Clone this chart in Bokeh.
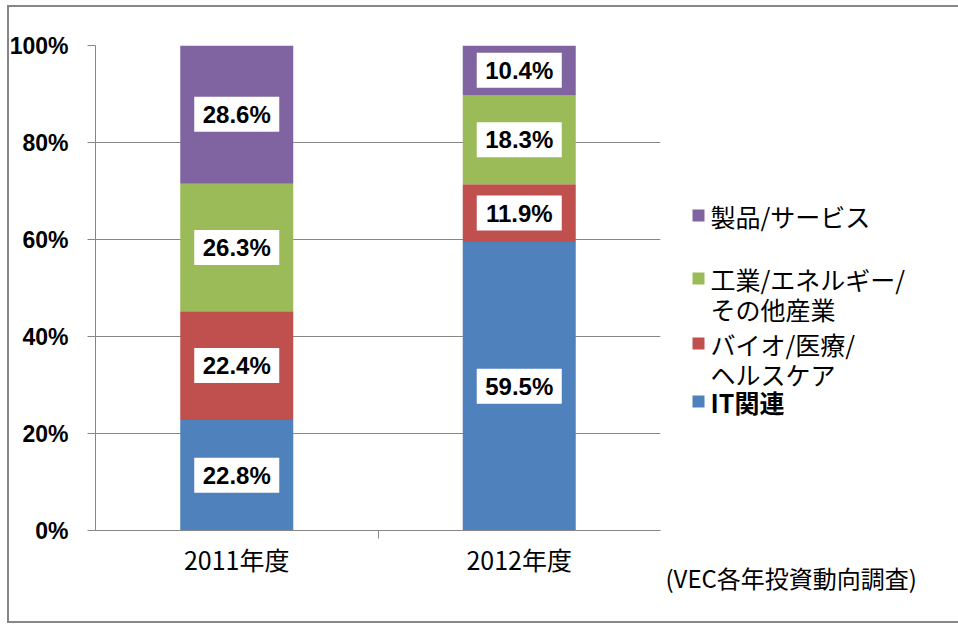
from bokeh.plotting import figure
from bokeh.layouts import row
from bokeh.models import ColumnDataSource, FixedTicker, PrintfTickFormatter, Range1d, Title
from bokeh.embed import file_html
from bokeh.resources import INLINE
from bokeh.core.properties import value

# ---- data ----
years = ["2011年度", "2012年度"]
series_keys = ["it", "bio", "ind", "prod"]
it = [22.8, 59.5]
bio = [22.4, 11.9]
ind = [26.3, 18.3]
prod = [28.6, 10.4]
colors = ["#4F81BD", "#C0504D", "#9BBB59", "#8064A2"]
y_ticks = [0, 20, 40, 60, 80, 100]
legend_names = ["製品/サービス", "工業/エネルギー/\nその他産業", "バイオ/医療/\nヘルスケア", "IT関連"]
legend_colors = ["#8064A2", "#9BBB59", "#C0504D", "#4F81BD"]
source_note = "(VEC各年投資動向調査)"

W, H = 958, 624
FL, FR, FT, FB = 95, 660, 45, 530  # frame edges in canvas px
W1 = 665
gray = "#868686"

xs = [0.5 + i for i in range(len(years))]
data = dict(x=xs, it=it, bio=bio, ind=ind, prod=prod)
src = ColumnDataSource(data)

p = figure(width=W1, height=H, output_backend="svg", toolbar_location=None,
           x_range=Range1d(0, len(years)), y_range=Range1d(0, 100),
           min_border_left=FL, min_border_right=W1 - FR, min_border_top=FT, min_border_bottom=H - FB)
p.outline_line_color = None
p.background_fill_color = "white"
p.border_fill_color = None

p.vbar_stack(series_keys, x="x", width=0.4, color=colors, source=src, line_color=None)

# data labels
cum = [0.0] * len(years)
for key in series_keys:
    vals = data[key]
    mids = [c + v / 2 for c, v in zip(cum, vals)]
    cum = [c + v for c, v in zip(cum, vals)]
    labs = ["%.1f%%" % v for v in vals]
    ls = ColumnDataSource(dict(x=xs, y=mids, t=labs))
    p.rect(x="x", y="y", width=85, height=35, width_units="screen", height_units="screen",
           source=ls, fill_color="white", line_color=None)
    p.text(x="x", y="y", text="t", source=ls, text_align="center", text_baseline="middle",
           text_font=value("Liberation Sans"), text_font_style="bold", text_font_size="24px",
           text_color="black")

# axes
p.yaxis.ticker = FixedTicker(ticks=y_ticks)
p.yaxis.formatter = PrintfTickFormatter(format="%d%%")
p.yaxis.axis_line_color = gray
p.yaxis.major_tick_line_color = gray
p.yaxis.major_tick_out = 8
p.yaxis.major_tick_in = 0
p.yaxis.minor_tick_line_color = None
p.yaxis.major_label_standoff = 19
p.yaxis.major_label_text_font = "Liberation Sans"
p.yaxis.major_label_text_font_style = "bold"
p.yaxis.major_label_text_font_size = "23px"
p.yaxis.major_label_text_color = "black"

p.xaxis.ticker = FixedTicker(ticks=xs, minor_ticks=[1])
p.xaxis.major_label_overrides = {x: y for x, y in zip(xs, years)}
p.xaxis.axis_line_color = gray
p.xaxis.major_tick_line_color = None
p.xaxis.major_tick_out = 0
p.xaxis.major_tick_in = 0
p.xaxis.minor_tick_line_color = gray
p.xaxis.minor_tick_out = 8
p.xaxis.minor_tick_in = 0
p.xaxis.major_label_standoff = 2
p.xaxis.major_label_text_font = "Noto Sans CJK JP"
p.xaxis.major_label_text_font_size = "25px"
p.xaxis.major_label_text_color = "black"

p.xgrid.grid_line_color = None
p.ygrid.grid_line_color = gray
p.ygrid.ticker = FixedTicker(ticks=y_ticks)

# ---- legend panel (frame is aligned with the main plot: y pixel 45..530) ----
q = figure(width=W - W1, height=H, output_backend="svg", toolbar_location=None,
           x_range=Range1d(W1, W), y_range=Range1d(FB, FT),
           x_axis_type=None, y_axis_type=None, min_border=0)
q.outline_line_color = None
q.background_fill_color = None
q.border_fill_color = None
q.xgrid.grid_line_color = None
q.ygrid.grid_line_color = None

row_y = [215, 278, 343, 401]   # first line centre of each legend entry
line_gap = 30
for name, col, Y in zip(legend_names, legend_colors, row_y):
    q.rect(x=[698], y=[Y], width=12, height=12, fill_color=col, line_color=None)
    for j, line in enumerate(name.split("\n")):
        q.text(x=[710], y=[Y + j * line_gap], text=[line], text_font=value("Noto Sans CJK JP"),
               text_font_size="25px", text_font_style="bold" if line.startswith("IT") else "normal",
               text_baseline="middle", text_align="left", text_color="black")

q.add_layout(Title(text=source_note, align="left", offset=0, standoff=54,
                   text_font="Noto Sans CJK JP", text_font_size="24px",
                   text_font_style="normal", text_color="black"), "below")

bg = ("linear-gradient({c},{c}) 7px 5px / 960px 2px no-repeat, "
      "linear-gradient({c},{c}) 7px 5px / 2px 618px no-repeat, "
      "linear-gradient({c},{c}) 7px 621px / 960px 2px no-repeat, white").format(c=gray)
layout = row(p, q, styles={"background": bg})

open("out.html", "w").write(file_html(layout, INLINE))
